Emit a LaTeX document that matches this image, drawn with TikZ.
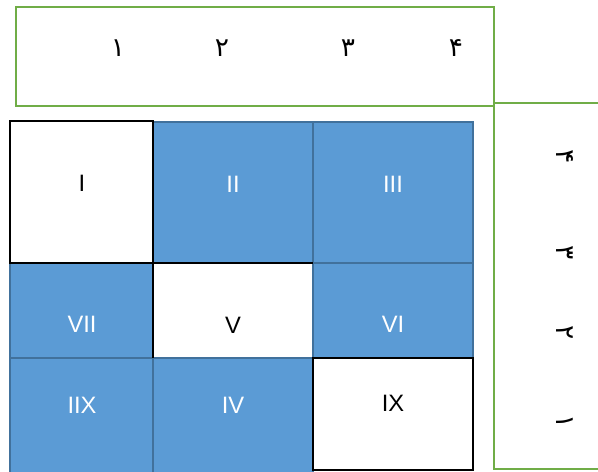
\documentclass[tikz,border=0pt]{standalone}
\usepackage{fontspec}
\setmainfont{Liberation Sans}
\newfontfamily\arabicfont[Script=Arabic]{DejaVu Sans}
\definecolor{cellblue}{HTML}{5B9BD5}
\definecolor{cellrim}{HTML}{41719C}
\definecolor{framegreen}{HTML}{70AD47}
\begin{document}
\begin{tikzpicture}[x=0.02cm, y=-0.02cm,
    bluecell/.style={fill=cellblue, draw=cellrim, line width=1.3pt},
    whitecell/.style={fill=white, draw=black, line width=1.4pt},
    greenframe/.style={draw=framegreen, line width=1.5pt},
    roman/.style={font=\fontsize{13.5}{16}\selectfont},
    digit/.style={font=\arabicfont\fontsize{15}{18}\selectfont}]
    \clip (0, 0) rectangle (598, 472);
    \fill[white] (0, 0) rectangle (598, 472);

    % Top frame with digits
    \draw[greenframe] (16, 7) rectangle (494, 106);
    \node[digit] (d1) at (118, 48) {۱};
    \node[digit] (d2) at (222, 48) {۲};
    \node[digit] (d3) at (348, 48) {۳};
    \node[digit] (d4) at (456, 48) {۴};

    % Side frame with turned digits
    \draw[greenframe] (494, 103) rectangle (640, 469);
    \node[digit, rotate=-90] (s4) at (565, 157) {۴};
    \node[digit, rotate=-90] (s3) at (565, 253) {۳};
    \node[digit, rotate=-90] (s2) at (565, 333) {۲};
    \node[digit, rotate=-90] (s1) at (565, 422) {۱};

    % Blue cells
    \draw[bluecell] (153, 122) rectangle (313, 263);
    \draw[bluecell] (313, 122) rectangle (473, 263);
    \draw[bluecell] (10, 263) rectangle (153, 358);
    \draw[bluecell] (313, 263) rectangle (473, 358);
    \draw[bluecell] (10, 358) rectangle (153, 490);
    \draw[bluecell] (153, 358) rectangle (313, 490);

    % White cells
    \draw[whitecell] (10, 121) rectangle (153, 263);
    \fill[white] (154, 264) rectangle (312, 357);
    \draw[black, line width=1.4pt] (153, 358) -- (153, 263) -- (313, 263);
    \draw[whitecell] (313, 358) rectangle (473, 470);

    % Labels
    \node[roman] (lI) at (82, 183) {I};
    \node[roman, white] (lII) at (233, 184) {II};
    \node[roman, white] (lIII) at (393, 184) {III};
    \node[roman, white] (lVII) at (82, 324) {VII};
    \node[roman] (lV) at (233, 325) {V};
    \node[roman, white] (lVI) at (393, 324) {VI};
    \node[roman, white] (lIIX) at (82, 405) {IIX};
    \node[roman, white] (lIV) at (233, 405) {IV};
    \node[roman] (lIX) at (393, 403) {IX};
\end{tikzpicture}
\end{document}
